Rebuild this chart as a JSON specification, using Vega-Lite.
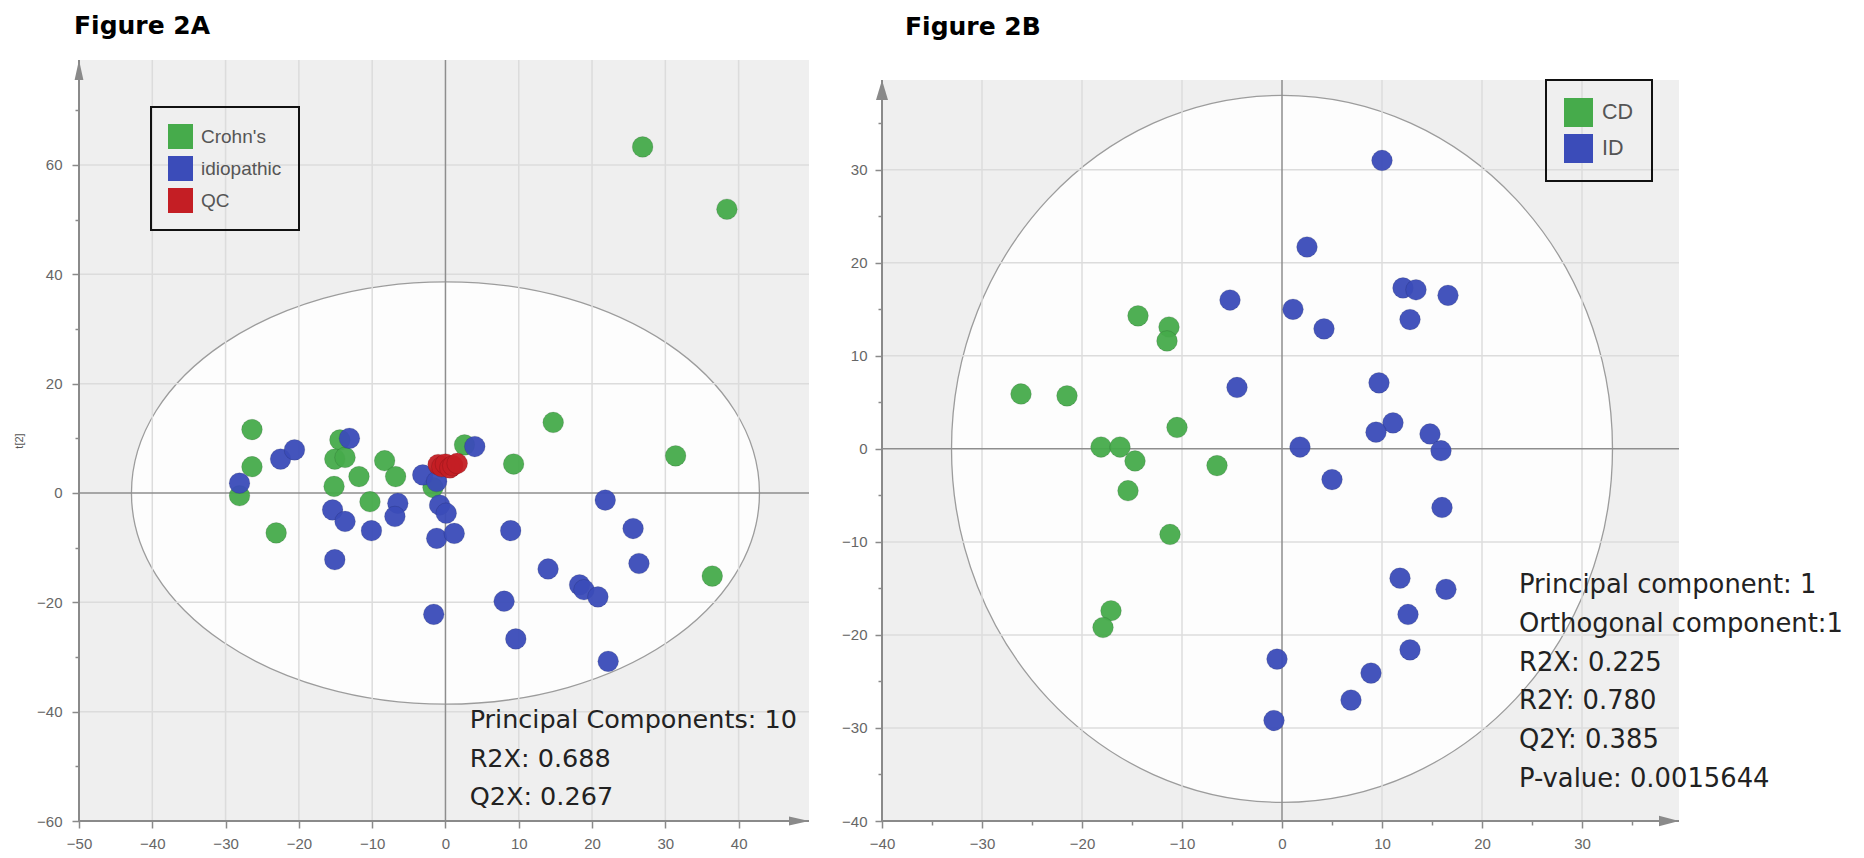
{
  "$schema": "https://vega.github.io/schema/vega-lite/v6.json",
  "background": "#ffffff",
  "padding": {"left": 13, "top": 14, "right": 0, "bottom": 0},
  "spacing": 31,
  "config": {
    "view": {"stroke": null},
    "title": {"font": "DejaVu Sans", "fontSize": 25, "fontWeight": "bold", "color": "#000000", "anchor": "start", "frame": "group", "baseline": "alphabetic", "offset": 20},
    "axis": {"labelFont": "Liberation Sans", "labelFontSize": 15, "labelColor": "#666666", "tickColor": "#8a8a8a", "tickWidth": 1.5, "domain": false, "grid": false, "labelFlush": false, "labelOverlap": false, "labelPadding": 8},
    "legend": {"title": null, "symbolType": "square", "labelFont": "Liberation Sans", "labelColor": "#555555", "strokeColor": "#111111", "strokeWidth": 2, "symbolStrokeWidth": 0, "symbolOpacity": 1, "orient": "none"}
  },
  "datasets": {
    "aPts": [
      {"x": -26.4, "y": 11.6, "group": "Crohn's"},
      {"x": -26.4, "y": 4.8, "group": "Crohn's"},
      {"x": -28.1, "y": -0.5, "group": "Crohn's"},
      {"x": -23.1, "y": -7.3, "group": "Crohn's"},
      {"x": -14.4, "y": 9.7, "group": "Crohn's"},
      {"x": -15.1, "y": 6.2, "group": "Crohn's"},
      {"x": -13.7, "y": 6.5, "group": "Crohn's"},
      {"x": -15.2, "y": 1.2, "group": "Crohn's"},
      {"x": -11.8, "y": 3.0, "group": "Crohn's"},
      {"x": -8.3, "y": 5.9, "group": "Crohn's"},
      {"x": -6.8, "y": 3.0, "group": "Crohn's"},
      {"x": -10.3, "y": -1.6, "group": "Crohn's"},
      {"x": -1.7, "y": 1.0, "group": "Crohn's"},
      {"x": 2.6, "y": 8.8, "group": "Crohn's"},
      {"x": 9.3, "y": 5.3, "group": "Crohn's"},
      {"x": 14.7, "y": 12.9, "group": "Crohn's"},
      {"x": 31.4, "y": 6.8, "group": "Crohn's"},
      {"x": 36.4, "y": -15.2, "group": "Crohn's"},
      {"x": 26.9, "y": 63.3, "group": "Crohn's"},
      {"x": 38.4, "y": 51.9, "group": "Crohn's"},
      {"x": -28.1, "y": 1.8, "group": "idiopathic"},
      {"x": -22.5, "y": 6.2, "group": "idiopathic"},
      {"x": -20.6, "y": 7.9, "group": "idiopathic"},
      {"x": -13.1, "y": 10.0, "group": "idiopathic"},
      {"x": -15.4, "y": -3.1, "group": "idiopathic"},
      {"x": -13.7, "y": -5.2, "group": "idiopathic"},
      {"x": -10.1, "y": -6.9, "group": "idiopathic"},
      {"x": -6.5, "y": -1.9, "group": "idiopathic"},
      {"x": -6.9, "y": -4.3, "group": "idiopathic"},
      {"x": -15.1, "y": -12.2, "group": "idiopathic"},
      {"x": -3.1, "y": 3.3, "group": "idiopathic"},
      {"x": -1.2, "y": 2.1, "group": "idiopathic"},
      {"x": -0.8, "y": -2.2, "group": "idiopathic"},
      {"x": 0.1, "y": -3.7, "group": "idiopathic"},
      {"x": -1.2, "y": -8.3, "group": "idiopathic"},
      {"x": 1.2, "y": -7.4, "group": "idiopathic"},
      {"x": 4.0, "y": 8.5, "group": "idiopathic"},
      {"x": -1.6, "y": -22.2, "group": "idiopathic"},
      {"x": 8.9, "y": -6.9, "group": "idiopathic"},
      {"x": 8.0, "y": -19.8, "group": "idiopathic"},
      {"x": 9.6, "y": -26.7, "group": "idiopathic"},
      {"x": 14.0, "y": -13.9, "group": "idiopathic"},
      {"x": 18.3, "y": -16.8, "group": "idiopathic"},
      {"x": 18.9, "y": -17.7, "group": "idiopathic"},
      {"x": 20.8, "y": -19.0, "group": "idiopathic"},
      {"x": 21.8, "y": -1.3, "group": "idiopathic"},
      {"x": 25.6, "y": -6.5, "group": "idiopathic"},
      {"x": 26.4, "y": -12.9, "group": "idiopathic"},
      {"x": 22.2, "y": -30.8, "group": "idiopathic"},
      {"x": -1.0, "y": 5.2, "group": "QC"},
      {"x": -0.5, "y": 4.8, "group": "QC"},
      {"x": 0.0, "y": 5.3, "group": "QC"},
      {"x": 0.6, "y": 4.6, "group": "QC"},
      {"x": 1.0, "y": 5.0, "group": "QC"},
      {"x": 1.6, "y": 5.4, "group": "QC"}
    ],
    "bPts": [
      {"x": -14.4, "y": 14.3, "group": "CD"},
      {"x": -11.3, "y": 13.1, "group": "CD"},
      {"x": -11.5, "y": 11.6, "group": "CD"},
      {"x": -26.1, "y": 5.9, "group": "CD"},
      {"x": -21.5, "y": 5.7, "group": "CD"},
      {"x": -10.5, "y": 2.3, "group": "CD"},
      {"x": -18.1, "y": 0.2, "group": "CD"},
      {"x": -16.2, "y": 0.2, "group": "CD"},
      {"x": -14.7, "y": -1.3, "group": "CD"},
      {"x": -6.5, "y": -1.8, "group": "CD"},
      {"x": -15.4, "y": -4.5, "group": "CD"},
      {"x": -11.2, "y": -9.2, "group": "CD"},
      {"x": -17.1, "y": -17.4, "group": "CD"},
      {"x": -17.9, "y": -19.2, "group": "CD"},
      {"x": 10.0, "y": 31.0, "group": "ID"},
      {"x": 2.5, "y": 21.7, "group": "ID"},
      {"x": -5.2, "y": 16.0, "group": "ID"},
      {"x": 1.1, "y": 15.0, "group": "ID"},
      {"x": 4.2, "y": 12.9, "group": "ID"},
      {"x": 12.1, "y": 17.3, "group": "ID"},
      {"x": 13.4, "y": 17.1, "group": "ID"},
      {"x": 16.6, "y": 16.5, "group": "ID"},
      {"x": 12.8, "y": 13.9, "group": "ID"},
      {"x": -4.5, "y": 6.6, "group": "ID"},
      {"x": 9.7, "y": 7.1, "group": "ID"},
      {"x": 11.1, "y": 2.8, "group": "ID"},
      {"x": 9.4, "y": 1.8, "group": "ID"},
      {"x": 14.8, "y": 1.6, "group": "ID"},
      {"x": 15.9, "y": -0.2, "group": "ID"},
      {"x": 1.8, "y": 0.2, "group": "ID"},
      {"x": 5.0, "y": -3.3, "group": "ID"},
      {"x": 16.0, "y": -6.3, "group": "ID"},
      {"x": 11.8, "y": -13.9, "group": "ID"},
      {"x": 16.4, "y": -15.1, "group": "ID"},
      {"x": 12.6, "y": -17.8, "group": "ID"},
      {"x": 12.8, "y": -21.6, "group": "ID"},
      {"x": -0.5, "y": -22.6, "group": "ID"},
      {"x": 8.9, "y": -24.1, "group": "ID"},
      {"x": 6.9, "y": -27.0, "group": "ID"},
      {"x": -0.8, "y": -29.2, "group": "ID"}
    ],
    "aGridX": [{"v": -40}, {"v": -30}, {"v": -20}, {"v": -10}, {"v": 10}, {"v": 20}, {"v": 30}, {"v": 40}],
    "aGridY": [{"v": -40}, {"v": -20}, {"v": 20}, {"v": 40}, {"v": 60}],
    "bGridX": [{"v": -30}, {"v": -20}, {"v": -10}, {"v": 10}, {"v": 20}, {"v": 30}],
    "bGridY": [{"v": -30}, {"v": -20}, {"v": -10}, {"v": 10}, {"v": 20}, {"v": 30}]
  },
  "hconcat": [
    {
      "width": 730,
      "height": 761,
      "data": {"values": [{}]},
      "title": {"text": "Figure 2A", "dx": -5},
      "layer": [
        {
          "mark": {"type": "rect", "fill": "#efefef"},
          "encoding": {
            "x": {"datum": -50, "type": "quantitative",
              "scale": {"domain": [-50, 49.6], "nice": false, "zero": false},
              "axis": {
                "title": null,
                "values": [-50, -45, -40, -35, -30, -25, -20, -15, -10, -5, 0, 5, 10, 15, 20, 25, 30, 35, 40, 45],
                "labelExpr": "datum.value % 10 === 0 ? datum.label : ''",
                "tickSize": {"condition": {"test": "datum.value % 10 === 0", "value": 7}, "value": 4},
                "labelPadding": 8
              }},
            "x2": {"datum": 49.6},
            "y": {"datum": -60, "type": "quantitative",
              "scale": {"domain": [-60, 79.2], "nice": false, "zero": false},
              "axis": {
                "title": "t[2]",
                "titleFont": "Liberation Sans",
                "titleFontSize": 11,
                "titleFontWeight": "normal",
                "titleColor": "#555555",
                "titlePadding": 12,
                "values": [-60, -55, -50, -45, -40, -35, -30, -25, -20, -15, -10, -5, 0, 5, 10, 15, 20, 25, 30, 35, 40, 45, 50, 55, 60, 65, 70, 75],
                "labelExpr": "datum.value % 20 === 0 ? datum.label : ''",
                "tickSize": {"condition": {"test": "datum.value % 20 === 0", "value": 7}, "value": 4},
                "labelPadding": 10
              }},
            "y2": {"datum": 79.2}
          }
        },
        {
          "mark": {"type": "point", "shape": "M1,0C1,0.3715,0.5523,0.6726,0,0.6726C-0.5523,0.6726,-1,0.3715,-1,0C-1,-0.3715,-0.5523,-0.6726,0,-0.6726C0.5523,-0.6726,1,-0.3715,1,0Z", "size": 394384, "filled": true, "fill": "#fdfdfd", "stroke": "#9c9c9c", "strokeWidth": 1.3, "opacity": 1},
          "encoding": {"x": {"datum": 0, "type": "quantitative"}, "y": {"datum": 0, "type": "quantitative"}}
        },
        {
          "data": {"name": "aGridX"},
          "mark": {"type": "rule", "color": "#dcdcdc", "strokeWidth": 1.5},
          "encoding": {"x": {"field": "v", "type": "quantitative"}}
        },
        {
          "data": {"name": "aGridY"},
          "mark": {"type": "rule", "color": "#dcdcdc", "strokeWidth": 1.5},
          "encoding": {"y": {"field": "v", "type": "quantitative"}}
        },
        {
          "mark": {"type": "rule", "color": "#8e8e8e", "strokeWidth": 1.5},
          "encoding": {"x": {"datum": 0, "type": "quantitative"}}
        },
        {
          "mark": {"type": "rule", "color": "#8e8e8e", "strokeWidth": 1.5},
          "encoding": {"y": {"datum": 0, "type": "quantitative"}}
        },
        {
          "mark": {"type": "rule", "color": "#8a8a8a", "strokeWidth": 2},
          "encoding": {"x": {"datum": -50, "type": "quantitative"}}
        },
        {
          "mark": {"type": "rule", "color": "#8a8a8a", "strokeWidth": 2},
          "encoding": {"y": {"datum": -60, "type": "quantitative"}}
        },
        {
          "mark": {"type": "point", "shape": "M0,0L0.22,1L-0.22,1Z", "size": 1600, "filled": true, "color": "#8a8a8a", "opacity": 1},
          "encoding": {"x": {"datum": -50, "type": "quantitative"}, "y": {"datum": 79.2, "type": "quantitative"}}
        },
        {
          "mark": {"type": "point", "shape": "M0,0L-1,-0.22L-1,0.22Z", "size": 1600, "filled": true, "color": "#8a8a8a", "opacity": 1},
          "encoding": {"x": {"datum": 49.6, "type": "quantitative"}, "y": {"datum": -60, "type": "quantitative"}}
        },
        {
          "data": {"name": "aPts"},
          "mark": {"type": "circle", "size": 430, "opacity": 0.95, "stroke": "#000000", "strokeOpacity": 0.12, "strokeWidth": 1},
          "encoding": {
            "x": {"field": "x", "type": "quantitative"},
            "y": {"field": "y", "type": "quantitative"},
            "color": {"field": "group", "type": "nominal",
              "scale": {"domain": ["Crohn's", "idiopathic", "QC"], "range": ["#46ab4b", "#3b4cb9", "#c41e24"]},
              "legend": {"legendX": 72, "legendY": 47, "symbolSize": 625, "labelFontSize": 19, "padding": 17, "rowPadding": 7, "labelOffset": 8}
            }
          }
        },
        {
          "mark": {"type": "text", "align": "left", "baseline": "alphabetic", "font": "DejaVu Sans", "fontSize": 25.5, "color": "#222222", "lineHeight": 38.5},
          "encoding": {
            "x": {"datum": 3.3, "type": "quantitative"},
            "y": {"datum": -43.0, "type": "quantitative"},
            "text": {"value": ["Principal Components: 10", "R2X: 0.688", "Q2X: 0.267"]}
          }
        }
      ]
    },
    {
      "width": 797,
      "height": 761,
      "data": {"values": [{}]},
      "title": {"text": "Figure 2B", "dx": 23},
      "layer": [
        {
          "mark": {"type": "rect", "fill": "#efefef"},
          "encoding": {
            "x": {"datum": -40, "type": "quantitative",
              "scale": {"domain": [-40, 39.7], "nice": false, "zero": false},
              "axis": {
                "title": null,
                "values": [-40, -35, -30, -25, -20, -15, -10, -5, 0, 5, 10, 15, 20, 25, 30, 35],
                "labelExpr": "datum.value % 10 === 0 ? datum.label : ''",
                "tickSize": {"condition": {"test": "datum.value % 10 === 0", "value": 7}, "value": 4},
                "labelPadding": 8
              }},
            "x2": {"datum": 39.7},
            "y": {"datum": -40, "type": "quantitative",
              "scale": {"domain": [-40, 41.8], "nice": false, "zero": false},
              "axis": {
                "title": null,
                "values": [-40, -35, -30, -25, -20, -15, -10, -5, 0, 5, 10, 15, 20, 25, 30, 35],
                "labelExpr": "datum.value % 10 === 0 ? datum.label : ''",
                "tickSize": {"condition": {"test": "datum.value % 10 === 0", "value": 7}, "value": 4},
                "labelPadding": 8
              }},
            "y2": {"datum": 39.66}
          }
        },
        {
          "mark": {"type": "point", "shape": "M0.9349,0C0.9349,0.5523,0.5163,1,0,1C-0.5163,1,-0.9349,0.5523,-0.9349,0C-0.9349,-0.5523,-0.5163,-1,0,-1C0.5163,-1,0.9349,-0.5523,0.9349,0Z", "size": 499849, "filled": true, "fill": "#fdfdfd", "stroke": "#9c9c9c", "strokeWidth": 1.3, "opacity": 1},
          "encoding": {"x": {"datum": 0, "type": "quantitative"}, "y": {"datum": 0, "type": "quantitative"}}
        },
        {
          "data": {"name": "bGridX"},
          "mark": {"type": "rule", "color": "#dcdcdc", "strokeWidth": 1.5},
          "encoding": {
            "x": {"field": "v", "type": "quantitative"},
            "y": {"datum": -40, "type": "quantitative"},
            "y2": {"datum": 39.66}
          }
        },
        {
          "data": {"name": "bGridY"},
          "mark": {"type": "rule", "color": "#dcdcdc", "strokeWidth": 1.5},
          "encoding": {"y": {"field": "v", "type": "quantitative"}}
        },
        {
          "mark": {"type": "rule", "color": "#8e8e8e", "strokeWidth": 1.5},
          "encoding": {
            "x": {"datum": 0, "type": "quantitative"},
            "y": {"datum": -40, "type": "quantitative"},
            "y2": {"datum": 39.66}
          }
        },
        {
          "mark": {"type": "rule", "color": "#8e8e8e", "strokeWidth": 1.5},
          "encoding": {"y": {"datum": 0, "type": "quantitative"}}
        },
        {
          "mark": {"type": "rule", "color": "#8a8a8a", "strokeWidth": 2},
          "encoding": {
            "x": {"datum": -40, "type": "quantitative"},
            "y": {"datum": -40, "type": "quantitative"},
            "y2": {"datum": 39.66}
          }
        },
        {
          "mark": {"type": "rule", "color": "#8a8a8a", "strokeWidth": 2},
          "encoding": {"y": {"datum": -40, "type": "quantitative"}}
        },
        {
          "mark": {"type": "point", "shape": "M0,0L0.3,1L-0.3,1Z", "size": 1600, "filled": true, "color": "#8a8a8a", "opacity": 1},
          "encoding": {"x": {"datum": -40, "type": "quantitative"}, "y": {"datum": 39.66, "type": "quantitative"}}
        },
        {
          "mark": {"type": "point", "shape": "M0,0L-1,-0.26L-1,0.26Z", "size": 1600, "filled": true, "color": "#8a8a8a", "opacity": 1},
          "encoding": {"x": {"datum": 39.7, "type": "quantitative"}, "y": {"datum": -40, "type": "quantitative"}}
        },
        {
          "data": {"name": "bPts"},
          "mark": {"type": "circle", "size": 430, "opacity": 0.95, "stroke": "#000000", "strokeOpacity": 0.12, "strokeWidth": 1},
          "encoding": {
            "x": {"field": "x", "type": "quantitative"},
            "y": {"field": "y", "type": "quantitative"},
            "color": {"field": "group", "type": "nominal",
              "scale": {"domain": ["CD", "ID"], "range": ["#46ab4b", "#3b4cb9"]},
              "legend": {"legendX": 664, "legendY": 20, "symbolSize": 841, "labelFontSize": 21.5, "padding": 18, "rowPadding": 7, "labelOffset": 9}
            }
          }
        },
        {
          "mark": {"type": "text", "align": "left", "baseline": "alphabetic", "font": "DejaVu Sans", "fontSize": 25.8, "color": "#222222", "lineHeight": 38.8},
          "encoding": {
            "x": {"datum": 23.7, "type": "quantitative"},
            "y": {"datum": -15.49, "type": "quantitative"},
            "text": {"value": ["Principal component: 1", "Orthogonal component:1", "R2X: 0.225", "R2Y: 0.780", "Q2Y: 0.385", "P-value: 0.0015644"]}
          }
        }
      ]
    }
  ],
  "resolve": {"scale": {"color": "independent"}, "legend": {"color": "independent"}}
}
